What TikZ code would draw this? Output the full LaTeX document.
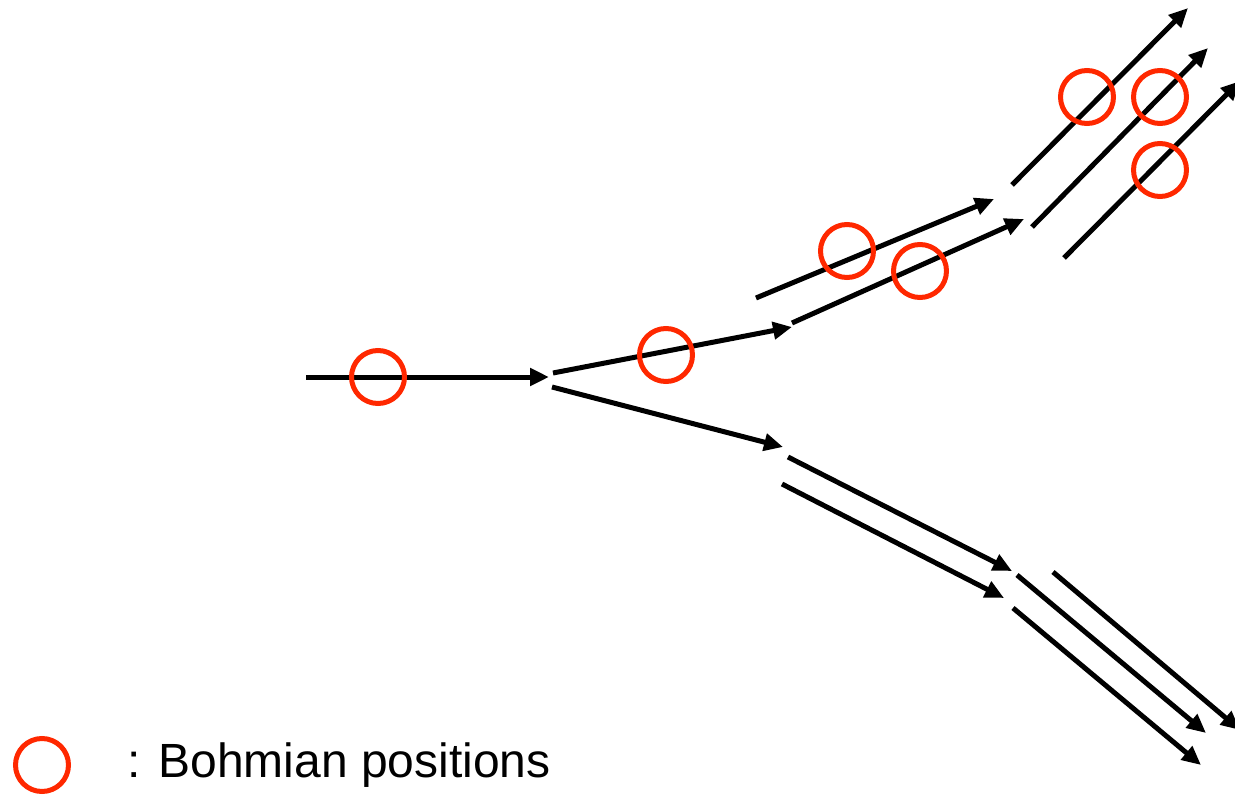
\documentclass[tikz,border=0pt]{standalone}
\usepackage{fontspec}
\setmainfont{Liberation Sans}
\usetikzlibrary{arrows.meta}
\definecolor{bohm}{RGB}{255,40,0}
\begin{document}
\begin{tikzpicture}[x=1pt,y=-1pt,
  traj/.style={line width=5pt,-{Triangle[length=19pt,width=17pt]}},
  bpos/.style={circle,draw=bohm,line width=5pt,minimum size=53pt,inner sep=0pt}]
\useasboundingbox (0,0) rectangle (1235,797);
% start and end points
\coordinate (s0) at (306,377);   \coordinate (e0) at (549,377);
\coordinate (s1) at (553,373);   \coordinate (e1) at (792,327);
\coordinate (s2) at (552,387);   \coordinate (e2) at (783,447);
\coordinate (s3) at (756,298);   \coordinate (e3) at (994,199);
\coordinate (s4) at (792,323);   \coordinate (e4) at (1024,219);
\coordinate (s5) at (1012,185);  \coordinate (e5) at (1188,8);
\coordinate (s6) at (1032,227);  \coordinate (e6) at (1208,48);
\coordinate (s7) at (1064,258);  \coordinate (e7) at (1240,81);
\coordinate (s8) at (788,457);   \coordinate (e8) at (1012,571);
\coordinate (s9) at (782,484);   \coordinate (e9) at (1004,598);
\coordinate (s10) at (1017,575); \coordinate (e10) at (1206,733);
\coordinate (s11) at (1053,572); \coordinate (e11) at (1240,730);
\coordinate (s12) at (1013,608); \coordinate (e12) at (1201,765);
% trajectories
\foreach \i in {0,...,12} { \draw[traj] (s\i) -- (e\i); }
% Bohmian positions
\node[bpos] (b1) at (378,377) {};
\node[bpos] (b2) at (666,355) {};
\node[bpos] (b3) at (847,251) {};
\node[bpos] (b4) at (920,271) {};
\node[bpos] (b5) at (1087,97) {};
\node[bpos] (b6) at (1160,97) {};
\node[bpos] (b7) at (1160,170) {};
% legend
\node[bpos] (leg) at (42,765) {};
\node[anchor=base west,inner sep=0pt,font=\fontsize{48}{58}\selectfont] (legtext) at (127,777) {: Bohmian positions};
\end{tikzpicture}
\end{document}
